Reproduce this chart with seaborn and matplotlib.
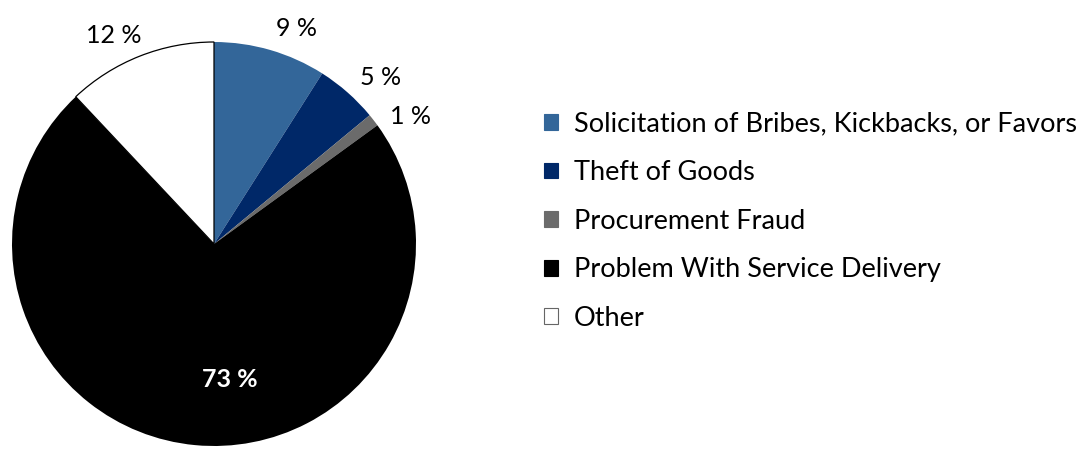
import matplotlib
matplotlib.use("Agg")
import matplotlib.pyplot as plt
import seaborn as sns
import numpy as np
from matplotlib.patches import Patch

categories = ["Solicitation of Bribes, Kickbacks, or Favors", "Theft of Goods",
              "Procurement Fraud", "Problem With Service Delivery", "Other"]
values = [9, 5, 1, 73, 12]
label_texts = ["9 %", "5 %", "1 %", "73 %", "12 %"]
colors = ["#336699", "#002868", "#6b6b6b", "#000000", "#ffffff"]

sns.set_theme(style="white")
plt.rcParams['font.family'] = ['Lato', 'DejaVu Sans']
plt.rcParams['text.color'] = 'black'

fig = plt.figure(figsize=(10.8, 4.49), dpi=100)
ax = fig.add_axes([12/1080, 3/449, 404/1080, 404/449])

wedges, _ = ax.pie(values, colors=colors, startangle=90, counterclock=False,
                   radius=1, wedgeprops=dict(linewidth=0))
wedges[4].set_edgecolor("#000000")
wedges[4].set_linewidth(0.9)
ax.set_xlim(-1, 1)
ax.set_ylim(-1, 1)
ax.set_aspect("equal")
ax.axis("off")

# label positions (in pie radius units)
label_pos = [(0.406, 1.069), (0.827, 0.822), (0.975, 0.629), (0.079, -0.673), (-0.495, 1.030)]
for i, (txt, (x, y)) in enumerate(zip(label_texts, label_pos)):
    if i == 3:
        ax.text(x, y, txt, ha="center", va="center", fontsize=18, color="white", fontweight="bold")
    else:
        ax.text(x, y, txt, ha="center", va="center", fontsize=18, color="black")

handles = []
for c in colors:
    handles.append(Patch(facecolor=c, edgecolor="#666666" if c == "#ffffff" else c, linewidth=0.8))
fig.legend(handles, categories, loc="upper left", bbox_to_anchor=(530/1080, 1 - 98/449),
           frameon=False, fontsize=19.5, handlelength=0.52, handleheight=0.52,
           handletextpad=0.59, labelspacing=0.87, borderpad=0, labelcolor="black")

fig.savefig("out.png", dpi=100)
